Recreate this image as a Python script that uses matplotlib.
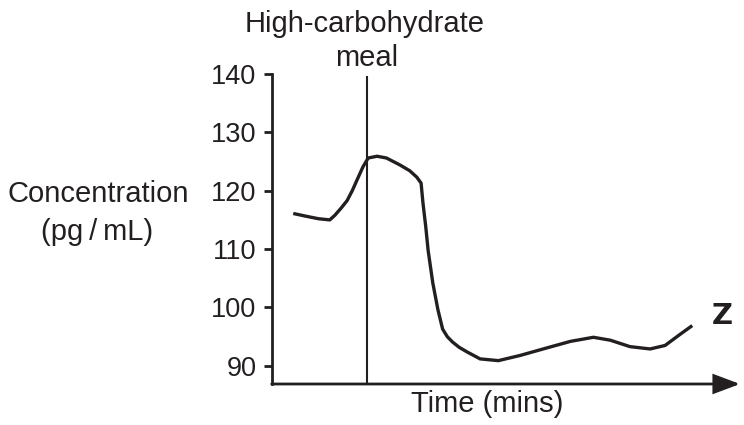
import matplotlib
matplotlib.use("Agg")
import matplotlib.pyplot as plt

plt.rcParams['font.family'] = ['Liberation Sans', 'DejaVu Sans']

# Data (time in arbitrary minute units, concentration in pg/mL)
time = [4.6, 7.5, 10.0, 12.4, 13.5, 14.8, 16.1, 17.2, 18.2, 19.5, 20.6, 22.5,
        24.5, 27.4, 29.5, 31.0, 31.9, 32.3, 32.9, 33.4, 34.4, 35.5, 36.5, 37.5,
        38.6, 40.0, 41.7, 44.5, 48.4, 53.1, 58.4, 63.8, 68.7, 72.3, 76.5, 80.8,
        84.0, 87.2, 89.8]
conc = [116.1, 115.6, 115.2, 115.0, 115.8, 117.0, 118.3, 120.0, 121.8, 124.1, 125.6, 125.9,
        125.6, 124.4, 123.4, 122.3, 121.3, 117.9, 113.8, 109.8, 104.2, 99.6, 96.3, 95.0,
        94.1, 93.2, 92.4, 91.2, 90.9, 91.8, 93.0, 94.2, 94.9, 94.4, 93.3, 92.9,
        93.5, 95.4, 96.9]
meal_time = 20.4
meal_top = 139.4
yticks = [90, 100, 110, 120, 130, 140]

INK = '#231f20'

fig = plt.figure(figsize=(7.44, 4.25), dpi=100)
ax = fig.add_axes([271.7/744, 1-384/425, (740-271.7)/744, (384-73.9)/425])

ax.plot(time, conc, color=INK, lw=2.4, solid_joinstyle='round', solid_capstyle='butt')
ax.plot([meal_time, meal_time], [86.9, meal_top], color=INK, lw=1.5)

ax.set_xlim(0, 100)
ax.set_ylim(86.9, 140)
ax.set_yticks(yticks)
ax.set_yticklabels([str(v) for v in yticks])
ax.set_xticks([])
for s in ['top', 'right', 'bottom']:
    ax.spines[s].set_visible(False)
ax.spines['left'].set_linewidth(2)
ax.spines['left'].set_color(INK)
ax.tick_params(axis='y', direction='out', length=6, width=2, color=INK,
               labelsize=19.5, labelcolor=INK, pad=5)

ax.annotate('', xy=(1.0, 0), xytext=(0, 0), xycoords='axes fraction',
            textcoords='axes fraction',
            arrowprops=dict(arrowstyle='-|>,head_length=0.4,head_width=0.15',
                            mutation_scale=40, lw=2, color=INK,
                            shrinkA=0, shrinkB=0, joinstyle='miter'),
            annotation_clip=False)

def ftext(x, y, s, **kw):
    fig.text(x/744, 1-y/425, s, color=INK, ha='center', va='baseline', **kw)

ftext(365, 32, 'High-carbohydrate', fontsize=21)
ftext(367, 66, 'meal', fontsize=21)
ftext(98, 202, 'Concentration', fontsize=21)
ftext(97, 240, '(pg\u2009/\u2009mL)', fontsize=21)
ftext(487, 412, 'Time (mins)', fontsize=21)
fig.text(722/744, 1-323.5/425, 'Z', color=INK, ha='center', va='baseline',
         fontsize=21, fontweight='bold', family='DejaVu Sans')

fig.savefig('out.png', dpi=100)
